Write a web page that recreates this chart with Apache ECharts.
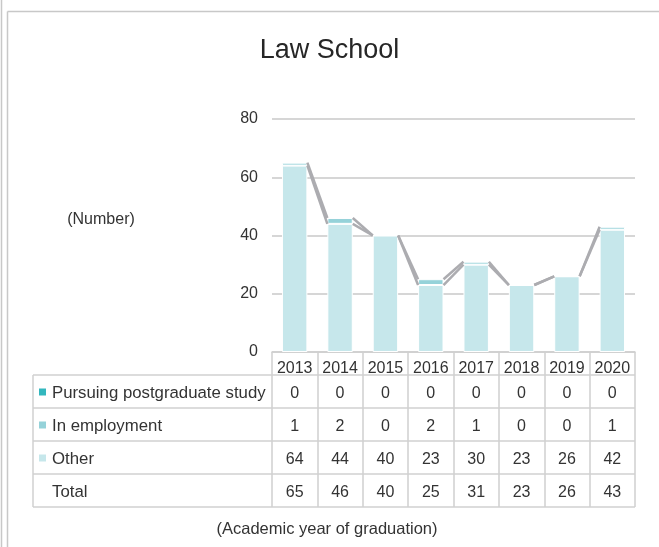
<!DOCTYPE html>
<html><head><meta charset="utf-8">
<script src="https://cdn.jsdelivr.net/npm/echarts@6/dist/echarts.min.js"></script>
<style>html,body{margin:0;padding:0;background:#fff}#c{width:659px;height:547px}</style>
</head><body><div id="c"></div>
<script>
const years = ['2013','2014','2015','2016','2017','2018','2019','2020'];
const pursuing = [0,0,0,0,0,0,0,0];
const employment = [1,2,0,2,1,0,0,1];
const other = [64,44,40,23,30,23,26,42];
const total = [65,46,40,25,31,23,26,43];
const yTicks = [0,20,40,60,80];
const rowNames = ['Pursuing postgraduate study','In employment','Other','Total'];
const titleText = 'Law School';
const yName = '(Number)';
const xName = '(Academic year of graduation)';

const C_P = '#33b7be', C_E = '#95d2d9', C_O = '#c6e7eb';
const FONT = 'Liberation Sans, Arial, sans-serif';
const TXT = '#333';
const LINE = '#d0d0d0';

const chart = echarts.init(document.getElementById('c'), null, {renderer:'canvas'});

const connectors = [];
for (let i = 0; i < years.length - 1; i++) {
  const topA = other[i] + employment[i] + pursuing[i];
  const topB = other[i+1] + employment[i+1] + pursuing[i+1];
  connectors.push([i, other[i], other[i+1], topA, topB]);
}
const BARW = 0.56;

const option = {
  animation: false,
  textStyle: {fontFamily: FONT},
  title: {text: titleText, left: 'center', top: 32,
    textStyle: {fontSize: 27, fontWeight: 'normal', color: '#262626', fontFamily: FONT}},
  grid: {left: 272, right: 24, top: 119, bottom: 195, containLabel: false},
  xAxis: {type: 'category', data: years,
    axisLine: {lineStyle: {color: LINE, width: 1.5}},
    axisTick: {show: true, interval: 0, length: 155, inside: false, lineStyle: {color: LINE, width: 1.5}},
    axisLabel: {interval: 0, fontSize: 16, color: TXT, margin: 9, fontFamily: FONT}},
  yAxis: {type: 'value', min: yTicks[0], max: yTicks[yTicks.length-1], interval: 20,
    axisLine: {show: false}, axisTick: {show: false},
    axisLabel: {fontSize: 16, color: TXT, margin: 14, fontFamily: FONT, padding: [4,0,0,0]},
    splitLine: {lineStyle: {color: '#c8c8c8', width: 1.5}}},
  series: [
    {name: 'Other', type: 'bar', stack: 's', data: other, barWidth: (BARW*100)+'%',
      itemStyle: {color: C_O, borderColor: '#fff', borderWidth: 1}},
    {name: 'In employment', type: 'bar', stack: 's', data: employment,
      itemStyle: {color: C_E, borderColor: '#fff', borderWidth: 1}},
    {name: 'Pursuing postgraduate study', type: 'bar', stack: 's', data: pursuing,
      itemStyle: {color: C_P, borderColor: '#fff', borderWidth: 0}},
    {name: 'lines', type: 'custom', data: connectors, encode: {x: 0, y: [1,2,3,4]}, z: 5,
      renderItem: function (params, api) {
        const i = api.value(0);
        const band = api.size([1, 0])[0];
        const half = band * BARW / 2;
        const xa = api.coord([i, 0])[0] + half;
        const xb = api.coord([i + 1, 0])[0] - half;
        const ch = [];
        [[1,2],[3,4]].forEach(function (p) {
          ch.push({type: 'line', shape: {x1: xa, y1: api.coord([i, api.value(p[0])])[1],
            x2: xb, y2: api.coord([i + 1, api.value(p[1])])[1]},
            style: {stroke: '#acacb0', lineWidth: 2.5}});
        });
        return {type: 'group', children: ch};
      }}
  ]
};
chart.setOption(option);

const cx = years.map(y => chart.convertToPixel({xAxisIndex: 0}, y));
const band = cx[1] - cx[0];
const right = cx[cx.length-1] + band/2;
const tLeft = 33;
const rowY = [375, 408, 441, 474, 507];
const rows = [pursuing, employment, other, total];
const swatches = [C_P, C_E, C_O, null];
const g = [];
// frame
g.push({type:'line', shape:{x1:1.5,y1:0,x2:1.5,y2:547}, style:{stroke:'#c8c8c8',lineWidth:1.5}, silent:true});
g.push({type:'line', shape:{x1:7.5,y1:11.5,x2:7.5,y2:547}, style:{stroke:'#c8c8c8',lineWidth:1.5}, silent:true});
g.push({type:'line', shape:{x1:7.5,y1:11.5,x2:659,y2:11.5}, style:{stroke:'#c8c8c8',lineWidth:1.5}, silent:true});
// table lines
rowY.forEach(y => g.push({type:'line', shape:{x1:tLeft,y1:y,x2:right,y2:y}, style:{stroke:LINE,lineWidth:1.5}, silent:true}));
g.push({type:'line', shape:{x1:tLeft,y1:rowY[0],x2:tLeft,y2:rowY[4]}, style:{stroke:LINE,lineWidth:1.5}, silent:true});
rows.forEach((vals, r) => {
  const yc = (rowY[r] + rowY[r+1]) / 2 + 2;
  if (swatches[r]) g.push({type:'rect', shape:{x:39,y:yc-5,width:7,height:7}, style:{fill:swatches[r]}, silent:true});
  g.push({type:'text', x:52, y:yc, style:{text: rowNames[r], font:'16.8px '+FONT, fill:TXT, textVerticalAlign:'middle', textAlign:'left'}, silent:true});
  vals.forEach((v, c) => {
    g.push({type:'text', x:cx[c], y:yc, style:{text:String(v), font:'16px '+FONT, fill:TXT, textAlign:'center', textVerticalAlign:'middle'}, silent:true});
  });
});
g.push({type:'text', x:101, y:220, style:{text:yName, font:'16px '+FONT, fill:TXT, textAlign:'center', textVerticalAlign:'middle'}, silent:true});
g.push({type:'text', x:327, y:529, style:{text:xName, font:'16.5px '+FONT, fill:TXT, textAlign:'center', textVerticalAlign:'middle'}, silent:true});
chart.setOption({graphic: g});
</script>
</body></html>
